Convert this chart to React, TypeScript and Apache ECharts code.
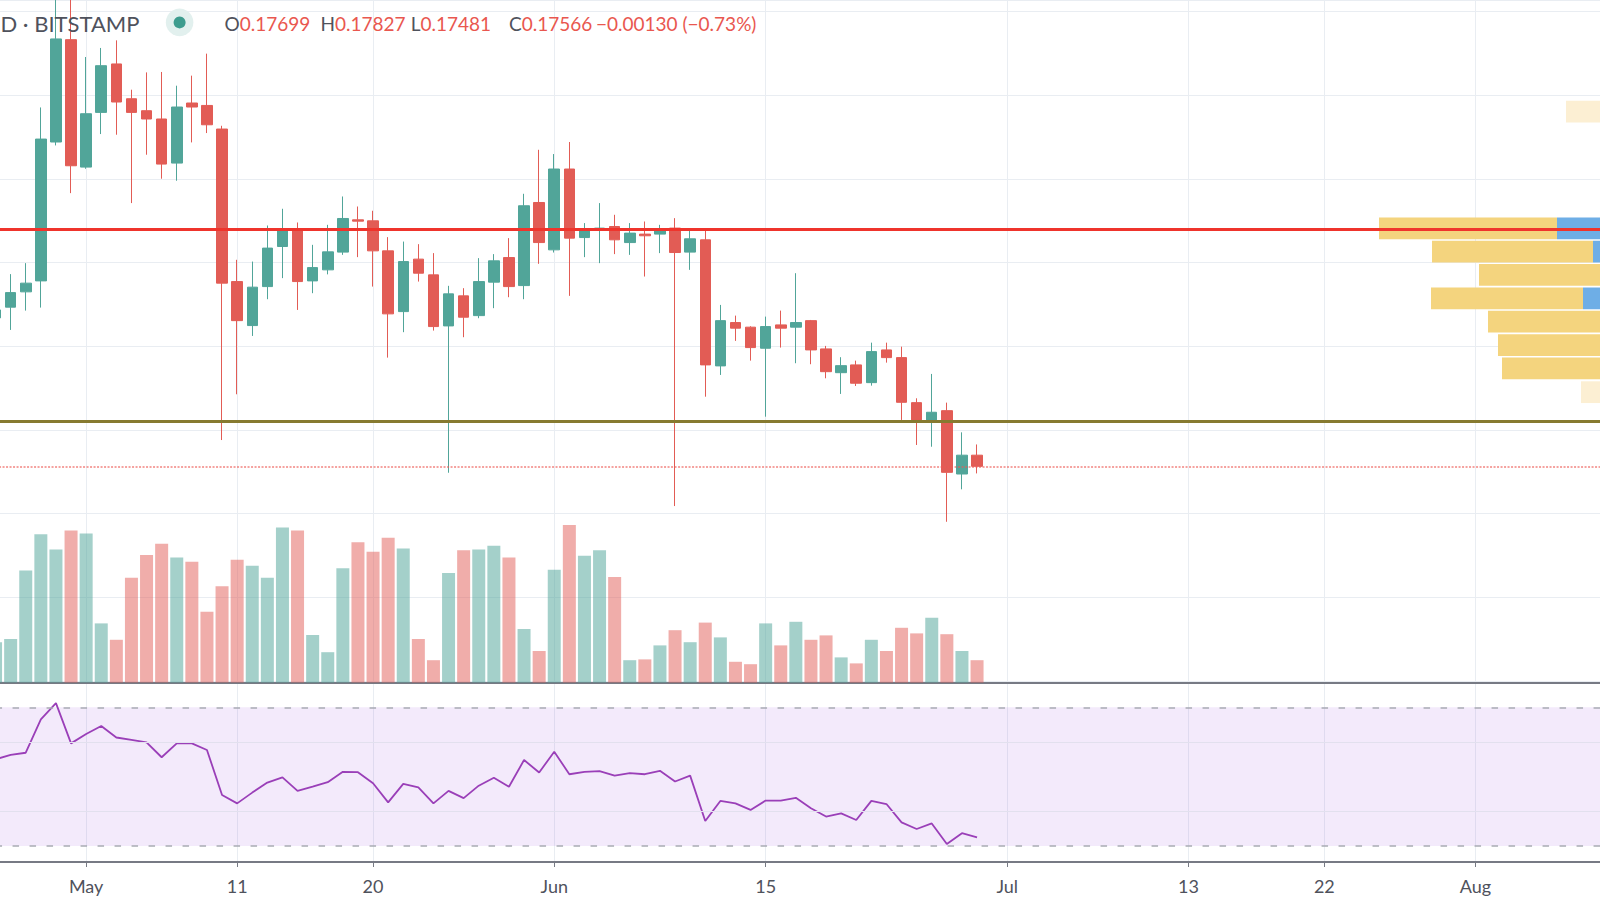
import React, { useEffect, useRef } from "react";
import * as echarts from "echarts";

// ---------- data ----------
const firstDay = "2020-04-25";
const axisDayCount = 108; // Apr 25 .. Aug 10 (calendar categories)

const candleOpen = [0.19340, 0.19468, 0.19651, 0.19782, 0.21442, 0.22665, 0.21142, 0.21796, 0.22375, 0.21959, 0.21816, 0.21717, 0.21190, 0.21908, 0.21879, 0.21597, 0.19774, 0.19248, 0.19714, 0.20193, 0.20401, 0.19782, 0.19914, 0.20126, 0.20512, 0.20500, 0.20141, 0.19415, 0.20042, 0.19854, 0.19244, 0.19603, 0.19367, 0.19767, 0.20061, 0.19726, 0.20719, 0.20153, 0.21119, 0.20300, 0.20392, 0.20432, 0.20240, 0.20341, 0.20341, 0.20413, 0.20126, 0.20273, 0.18766, 0.19284, 0.19229, 0.18977, 0.19256, 0.19229, 0.19307, 0.18969, 0.18685, 0.18778, 0.18566, 0.18957, 0.18865, 0.18327, 0.18120, 0.18231, 0.17474, 0.17699];
const candleClose = [0.19435, 0.19642, 0.19755, 0.21477, 0.22674, 0.21158, 0.21780, 0.22354, 0.21920, 0.21796, 0.21717, 0.21178, 0.21860, 0.21860, 0.21648, 0.19755, 0.19307, 0.19707, 0.20174, 0.20401, 0.19774, 0.19941, 0.20129, 0.20528, 0.20496, 0.20141, 0.19388, 0.20013, 0.19874, 0.19236, 0.19627, 0.19348, 0.19774, 0.20022, 0.19714, 0.20680, 0.20240, 0.21119, 0.20293, 0.20384, 0.20413, 0.20273, 0.20353, 0.20321, 0.20404, 0.20121, 0.20285, 0.18778, 0.19307, 0.19217, 0.18985, 0.19236, 0.19217, 0.19284, 0.18957, 0.18697, 0.18769, 0.18559, 0.18937, 0.18865, 0.18331, 0.18120, 0.18212, 0.17494, 0.17699, 0.17566];
const candleLow = [0.19256, 0.19196, 0.19427, 0.19463, 0.21401, 0.20831, 0.21122, 0.21537, 0.21529, 0.20712, 0.21290, 0.21003, 0.20979, 0.21437, 0.21549, 0.17880, 0.18427, 0.19124, 0.19563, 0.19815, 0.19435, 0.19635, 0.19860, 0.20093, 0.20066, 0.19714, 0.18865, 0.19169, 0.19774, 0.19188, 0.17489, 0.19109, 0.19336, 0.19456, 0.19587, 0.19563, 0.19986, 0.20121, 0.19603, 0.20066, 0.19994, 0.20102, 0.20093, 0.19834, 0.20114, 0.17091, 0.19914, 0.18398, 0.18658, 0.19065, 0.18829, 0.18159, 0.18985, 0.18798, 0.18786, 0.18618, 0.18431, 0.18526, 0.18530, 0.18805, 0.18120, 0.17821, 0.17800, 0.16903, 0.17291, 0.17481];
const candleHigh = [0.19555, 0.19863, 0.19994, 0.21855, 0.23323, 0.23203, 0.22458, 0.22566, 0.22657, 0.22067, 0.22274, 0.22279, 0.22115, 0.22235, 0.22498, 0.21636, 0.20034, 0.20013, 0.20444, 0.20644, 0.20480, 0.20213, 0.20452, 0.20791, 0.20671, 0.20620, 0.20305, 0.20252, 0.20221, 0.20114, 0.19723, 0.19695, 0.20054, 0.20102, 0.20293, 0.20823, 0.21349, 0.21298, 0.21442, 0.20473, 0.20712, 0.20572, 0.20473, 0.20492, 0.20452, 0.20532, 0.20413, 0.20392, 0.19495, 0.19367, 0.19240, 0.19355, 0.19427, 0.19874, 0.19315, 0.19005, 0.18870, 0.18829, 0.19044, 0.19044, 0.18996, 0.18379, 0.18670, 0.18327, 0.17972, 0.17827];
const volume = [10.1, 10.9, 28.0, 37.1, 33.3, 38.0, 37.3, 14.8, 10.7, 26.2, 31.9, 34.7, 31.3, 30.2, 17.7, 24.1, 30.7, 29.2, 26.2, 38.8, 38.0, 11.9, 7.6, 28.6, 35.1, 32.7, 36.2, 33.5, 10.9, 5.6, 27.4, 33.1, 33.3, 34.2, 31.3, 13.4, 7.9, 28.2, 39.4, 31.7, 33.1, 26.4, 5.6, 5.8, 9.3, 13.1, 10.1, 15.0, 11.3, 5.2, 4.6, 14.8, 9.3, 15.2, 10.7, 11.8, 6.3, 4.8, 10.7, 7.9, 13.7, 12.3, 16.2, 12.1, 7.9, 5.6];
const rsi = [55.0, 56.3, 56.9, 66.5, 71.2, 59.6, 62.3, 64.6, 61.3, 60.6, 59.9, 55.6, 59.6, 59.6, 57.7, 44.7, 42.3, 45.4, 48.3, 49.8, 45.9, 47.1, 48.4, 51.4, 51.3, 48.1, 42.6, 47.9, 46.9, 42.3, 45.9, 43.8, 47.4, 49.7, 47.1, 54.8, 51.2, 57.2, 50.7, 51.4, 51.6, 50.3, 51.0, 50.7, 51.7, 48.6, 50.3, 37.2, 43.0, 42.3, 40.4, 43.1, 43.1, 43.9, 40.9, 38.5, 39.4, 37.5, 43.0, 42.1, 36.8, 34.9, 36.5, 30.6, 33.7, 32.5];

// volume profile rows (price bins) and widths (volume units)
const vpLow = [0.21674, 0.20280, 0.20002, 0.19724, 0.19443, 0.19165, 0.18884, 0.18606, 0.18322];
const vpHigh = [0.21934, 0.20540, 0.20262, 0.19984, 0.19703, 0.19425, 0.19144, 0.18866, 0.18582];
const vpYellow = [34, 178, 161, 121, 152, 112, 102, 98, 19];
const vpBlue = [0, 43, 7, 0, 17, 0, 0, 0, 0];
const vpInValueArea = [0, 1, 1, 1, 1, 1, 1, 1, 0];

const tickLabels: Record<string, string> = {
  "2020-05-01": "May",
  "2020-05-11": "11",
  "2020-05-20": "20",
  "2020-06-01": "Jun",
  "2020-06-15": "15",
  "2020-07-01": "Jul",
  "2020-07-13": "13",
  "2020-07-22": "22",
  "2020-08-01": "Aug",
};

const resistanceLevel = 0.20405;
const supportLevel = 0.18100;
const lastOpen = 0.17699;
const lastHigh = 0.17827;
const lastLow = 0.17481;
const lastClose = 0.17566;

// ---------- helpers ----------
function dayRange(start: string, count: number): string[] {
  const out: string[] = [];
  const base = new Date(start + "T00:00:00Z").getTime();
  for (let i = 0; i < count; i++) {
    const d = new Date(base + i * 86400000);
    out.push(d.toISOString().slice(0, 10));
  }
  return out;
}

const FONT = 'Lato, "Noto Sans", sans-serif';
const UP = "#51a599";
const DOWN = "#e25c55";
const UP_VOL = "rgba(81,165,153,0.52)";
const DOWN_VOL = "rgba(226,92,85,0.5)";
const GRID = "#e9edf2";
const TEXT = "#4f525c";
const RED_TXT = "#e9574f";
const SHIFT = 20; // chart canvas starts 20px left of the visible page

export default function App() {
  const ref = useRef<HTMLDivElement>(null);

  useEffect(() => {
    if (!ref.current) return;
    const chart = echarts.init(ref.current, undefined, { renderer: "svg" });
    const axisDates = dayRange(firstDay, axisDayCount);
    const isTick = (_i: number, v: string) => tickLabels[v] !== undefined;

    const candleData = candleOpen.map((o, i) => [o, candleClose[i], candleLow[i], candleHigh[i]]);
    const volData = volume.map((v, i) => ({
      value: v,
      itemStyle: { color: candleClose[i] >= candleOpen[i] ? UP_VOL : DOWN_VOL },
    }));
    const vpData = vpLow.map((lo, i) => [lo, vpHigh[i], vpYellow[i], vpBlue[i], vpInValueArea[i]]);

    const gl = SHIFT - 4.45;
    const gw = 1615.7;
    const priceMin = 0.15;
    const priceMax = 0.231392;

    const ohlcRich = {
      k: { fill: TEXT, fontSize: 19, fontFamily: FONT },
      v: { fill: RED_TXT, fontSize: 19, fontFamily: FONT },
    };

    const option: any = {
      animation: false,
      backgroundColor: "#ffffff",
      textStyle: { fontFamily: FONT },
      grid: [
        { left: gl, width: gw, top: 0, height: 681 },
        { left: gl, width: gw, top: 482.6, height: 200 },
        { left: gl, width: gw, top: 684, height: 178 },
        { left: SHIFT + 1300, width: 300, top: 0, height: 681 },
      ],
      xAxis: [
        {
          gridIndex: 0, type: "category", data: axisDates, boundaryGap: false,
          axisLine: { show: false }, axisTick: { show: false }, axisLabel: { show: false },
          splitLine: { show: true, interval: isTick, lineStyle: { color: GRID, width: 1 } },
        },
        {
          gridIndex: 1, type: "category", data: axisDates, boundaryGap: false,
          axisLine: { show: true, lineStyle: { color: "#777a84", width: 2 } },
          axisTick: { show: false }, axisLabel: { show: false }, splitLine: { show: false },
        },
        {
          gridIndex: 2, type: "category", data: axisDates, boundaryGap: false,
          axisLine: { show: true, lineStyle: { color: "#777a84", width: 2 } },
          axisTick: { show: true, interval: isTick, length: 5, lineStyle: { color: "#777a84", width: 1 } },
          axisLabel: {
            show: true, interval: isTick, formatter: (v: string) => tickLabels[v] || "",
            color: TEXT, fontSize: 18, fontFamily: FONT, margin: 15,
          },
          splitLine: { show: true, interval: isTick, lineStyle: { color: GRID, width: 1 } },
        },
        { gridIndex: 3, type: "value", inverse: true, min: 0, max: 300, show: false },
      ],
      yAxis: [
        {
          gridIndex: 0, type: "value", min: priceMin, max: priceMax, interval: 0.01,
          axisLine: { show: false }, axisTick: { show: false }, axisLabel: { show: false },
          splitLine: { show: true, lineStyle: { color: GRID, width: 1 } },
        },
        { gridIndex: 1, type: "value", min: 0, max: 50, show: false, splitLine: { show: false } },
        { gridIndex: 2, type: "value", min: 25.385, max: 76.73, show: false, splitLine: { show: false } },
        { gridIndex: 3, type: "value", min: priceMin, max: priceMax, show: false, splitLine: { show: false } },
      ],
      series: [
        {
          type: "custom",
          xAxisIndex: 3,
          yAxisIndex: 3,
          z: 1,
          silent: true,
          data: vpData,
          renderItem: (_p: any, api: any) => {
            const lo = api.value(0);
            const hi = api.value(1);
            const yel = api.value(2);
            const blu = api.value(3);
            const inVA = api.value(4) === 1;
            const top = api.coord([0, hi]);
            const bot = api.coord([0, lo]);
            const xR = top[0];
            const xB = api.coord([blu, hi])[0];
            const xY = api.coord([blu + yel, hi])[0];
            const h = bot[1] - top[1];
            const children: any[] = [
              {
                type: "rect",
                shape: { x: xY, y: top[1], width: xB - xY, height: h },
                style: { fill: inVA ? "#f4d47e" : "#fcefd3" },
              },
            ];
            if (blu > 0) {
              children.push({
                type: "rect",
                shape: { x: xB, y: top[1], width: xR - xB, height: h },
                style: { fill: inVA ? "#6eaee6" : "#d6e8f8" },
              });
            }
            return { type: "group", children };
          },
        },
        {
          type: "bar",
          xAxisIndex: 1,
          yAxisIndex: 1,
          barWidth: 13,
          z: 1,
          silent: true,
          data: volData,
        },
        {
          type: "candlestick",
          xAxisIndex: 0,
          yAxisIndex: 0,
          barWidth: 11,
          z: 3,
          silent: true,
          data: candleData,
          itemStyle: { color: UP, color0: DOWN, borderColor: UP, borderColor0: DOWN, borderWidth: 1 },
          markLine: {
            silent: true,
            precision: 5,
            symbol: ["none", "none"],
            label: { show: false },
            emphasis: { disabled: true },
            data: [
              { yAxis: lastClose, lineStyle: { color: "rgba(236,90,84,0.75)", width: 1.5, type: [2, 1.5] } },
              { yAxis: supportLevel, lineStyle: { color: "#877a30", width: 3, type: "solid" } },
              { yAxis: resistanceLevel, lineStyle: { color: "#ef342c", width: 3, type: "solid" } },
            ],
          },
        },
        {
          type: "line",
          xAxisIndex: 2,
          yAxisIndex: 2,
          data: rsi,
          showSymbol: false,
          silent: true,
          z: 3,
          lineStyle: { color: "#9a3fb8", width: 1.8 },
          markArea: {
            silent: true,
            itemStyle: { color: "rgba(150,60,220,0.11)" },
            data: [[{ yAxis: 70 }, { yAxis: 30 }]],
          },
          markLine: {
            silent: true,
            precision: 2,
            symbol: ["none", "none"],
            label: { show: false },
            emphasis: { disabled: true },
            data: [
              { yAxis: 60, lineStyle: { color: "#e2e0ee", width: 1, type: "solid" } },
              { yAxis: 40, lineStyle: { color: "#e2e0ee", width: 1, type: "solid" } },
              { yAxis: 70, lineStyle: { color: "#a9acb4", width: 1.5, type: [6.5, 10.5] } },
              { yAxis: 30, lineStyle: { color: "#a9acb4", width: 1.5, type: [6.5, 10.5] } },
            ],
          },
        },
      ],
      graphic: {
        elements: [
          { type: "circle", shape: { cx: SHIFT + 179.6, cy: 22.4, r: 13.8 }, style: { fill: "#e2f0ee" }, z: 20 },
          { type: "circle", shape: { cx: SHIFT + 179.6, cy: 22.4, r: 6 }, style: { fill: "#3d9c8e" }, z: 21 },
          {
            type: "text", x: SHIFT + 0.5, y: 23, z: 20,
            style: { text: "D · BITSTAMP", fill: TEXT, fontSize: 22, fontFamily: FONT, verticalAlign: "middle" },
          },
          {
            type: "text", x: SHIFT + 224.5, y: 23, z: 20,
            style: { text: `{k|O}{v|${lastOpen.toFixed(5)}}`, rich: ohlcRich, verticalAlign: "middle" },
          },
          {
            type: "text", x: SHIFT + 320.4, y: 23, z: 20,
            style: { text: `{k|H}{v|${lastHigh.toFixed(5)}}`, rich: ohlcRich, verticalAlign: "middle" },
          },
          {
            type: "text", x: SHIFT + 410.7, y: 23, z: 20,
            style: { text: `{k|L}{v|${lastLow.toFixed(5)}}`, rich: ohlcRich, verticalAlign: "middle" },
          },
          {
            type: "text", x: SHIFT + 509, y: 23, z: 20,
            style: { text: `{k|C}{v|${lastClose.toFixed(5)}}`, rich: ohlcRich, verticalAlign: "middle" },
          },
          {
            type: "text", x: SHIFT + 596, y: 23, z: 20,
            style: { text: "−0.00130 (−0.73%)", fill: RED_TXT, fontSize: 19, fontFamily: FONT, verticalAlign: "middle" },
          },
        ],
      },
    };

    chart.setOption(option);
    return () => {
      chart.dispose();
    };
  }, []);

  return (
    <div style={{ position: "fixed", left: 0, top: 0, width: 1600, height: 900, overflow: "hidden", background: "#ffffff" }}>
      <div
        ref={ref}
        style={{ position: "absolute", left: -SHIFT, top: 0, width: 1600 + 2 * SHIFT, height: 900 }}
      />
    </div>
  );
}
